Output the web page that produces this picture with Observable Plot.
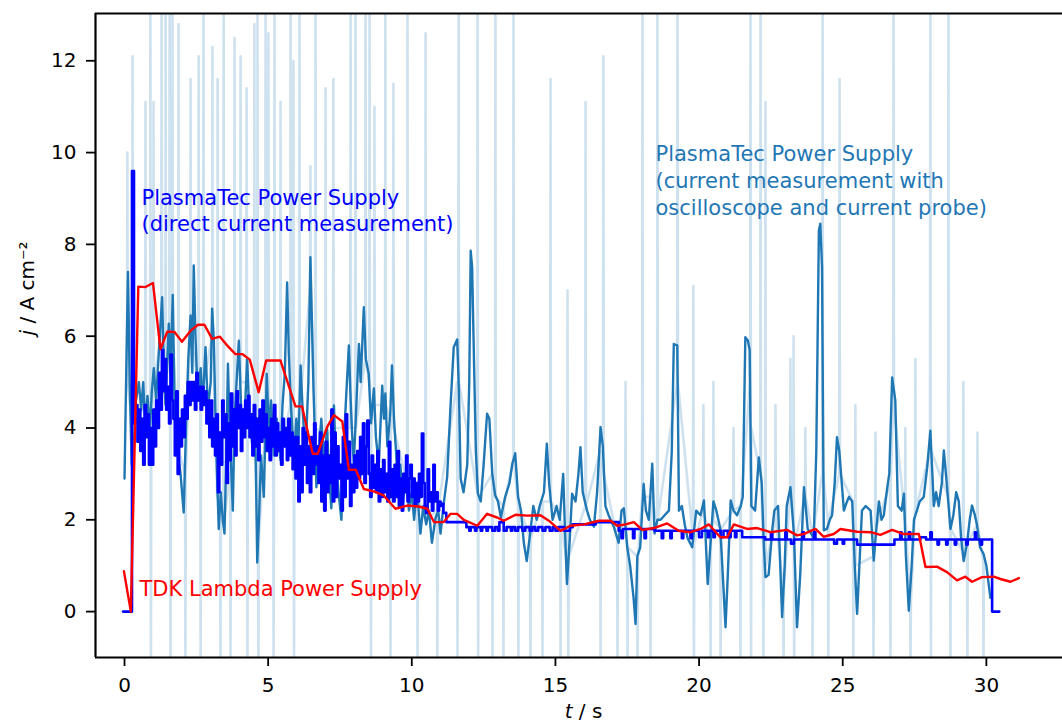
<!DOCTYPE html>
<html>
<head>
<meta charset="utf-8">
<script src="https://cdn.jsdelivr.net/npm/d3@7"></script>
<script src="https://cdn.jsdelivr.net/npm/@observablehq/plot@0.6"></script>
<style>
html, body { margin: 0; padding: 0; background: #fff; overflow: hidden; }
</style>
</head>
<body>
<div id="chart"></div>
<script>
// ---------- data ----------
const xTicks = [0, 5, 10, 15, 20, 25, 30];
const yTicks = [0, 2, 4, 6, 8, 10, 12];

const xLabel = "t / s";
const yLabel = "j / A cm\u207B\u00B2";
const labelDirect = "PlasmaTec Power Supply\n(direct current measurement)";
const labelOsc = "PlasmaTec Power Supply\n(current measurement with\noscilloscope and current probe)";
const labelTdk = "TDK Lambda Power Supply";

// TDK Lambda power supply [t, j]
const tdkLambda = [[-0.02,0.88],[0.22,0],[0.48,7.08],[0.73,7.07],[0.99,7.16],[1.25,5.72],[1.49,6.1],[1.74,6.09],[2.0,5.88],[2.3,6.12],[2.56,6.25],[2.78,6.25],[3.05,5.94],[3.32,5.99],[3.57,5.8],[3.86,5.61],[4.1,5.61],[4.36,5.49],[4.67,4.78],[4.93,5.47],[5.43,5.47],[5.95,4.47],[6.18,4.47],[6.55,3.44],[6.73,3.44],[7.05,4.02],[7.29,4.28],[7.58,4.14],[7.81,3.09],[8.05,3.09],[8.33,2.67],[8.68,2.62],[9.02,2.53],[9.43,2.24],[9.84,2.31],[10.24,2.29],[10.54,2.24],[10.77,1.95],[11.11,1.95],[11.35,2.13],[11.58,2.13],[11.81,2.0],[12.28,1.87],[12.62,2.13],[12.97,2.05],[13.2,1.98],[13.61,2.11],[14.02,2.09],[14.48,2.1],[14.77,1.98],[15.18,1.76],[15.52,1.87],[16.0,1.9],[16.51,1.98],[16.92,1.98],[17.15,1.87],[17.44,1.9],[17.73,1.95],[18.02,1.78],[18.43,1.82],[18.89,1.92],[19.29,1.76],[19.7,1.73],[20.05,1.8],[20.34,1.9],[20.74,1.62],[20.98,1.62],[21.21,1.9],[21.67,1.8],[22.02,1.82],[22.48,1.73],[23.06,1.78],[23.41,1.66],[23.64,1.69],[24.05,1.8],[24.34,1.63],[24.69,1.69],[24.92,1.8],[25.5,1.74],[25.97,1.73],[26.31,1.67],[26.72,1.78],[27.13,1.69],[27.65,1.69],[27.88,0.97],[28.28,0.98],[28.63,0.86],[28.98,0.68],[29.27,0.76],[29.5,0.65],[29.85,0.75],[30.26,0.76],[30.49,0.71],[30.84,0.65],[31.13,0.73]];

// PlasmaTec, direct current measurement [t, j] (stepwise)
const plasmaDirect = [[-0.05,0],[0.26,9.6],[0.33,4.1],[0.4,4.5],[0.45,3.7],[0.5,4.4],[0.55,3.5],[0.6,4.2],[0.65,3.2],[0.7,4.5],[0.75,3.8],[0.8,4.3],[0.85,3.2],[0.9,4.0],[0.95,3.2],[1.0,4.4],[1.05,3.6],[1.1,4.6],[1.15,4.0],[1.2,5.2],[1.25,4.4],[1.3,5.7],[1.35,4.8],[1.4,5.5],[1.45,4.4],[1.5,4.9],[1.55,4.1],[1.6,5.6],[1.65,4.6],[1.7,4.2],[1.75,3.4],[1.8,4.8],[1.85,3.0],[1.9,4.2],[1.95,3.6],[2.0,4.4],[2.05,3.8],[2.1,4.7],[2.15,4.2],[2.2,5.0],[2.25,4.5],[2.3,5.0],[2.35,4.6],[2.4,5.0],[2.45,4.4],[2.5,5.2],[2.55,4.6],[2.6,4.9],[2.65,4.4],[2.7,4.9],[2.75,4.5],[2.8,4.8],[2.85,4.1],[2.9,4.6],[2.95,3.8],[3.0,4.6],[3.05,3.6],[3.1,4.2],[3.15,3.4],[3.2,4.3],[3.25,2.6],[3.3,3.9],[3.35,3.2],[3.4,4.6],[3.45,3.8],[3.5,4.3],[3.55,2.8],[3.6,4.1],[3.65,3.3],[3.7,4.75],[3.75,3.6],[3.8,4.4],[3.85,3.4],[3.9,4.8],[3.95,4.0],[4.0,4.5],[4.05,3.5],[4.1,4.4],[4.15,3.8],[4.2,4.6],[4.25,4.0],[4.3,4.7],[4.35,3.8],[4.4,4.3],[4.45,3.4],[4.5,4.5],[4.55,3.6],[4.6,4.2],[4.65,3.3],[4.7,4.4],[4.75,3.7],[4.8,4.6],[4.85,3.8],[4.9,4.3],[4.95,3.5],[5.0,4.0],[5.05,3.3],[5.1,4.2],[5.15,3.6],[5.2,4.5],[5.25,3.4],[5.3,4.1],[5.35,3.5],[5.4,3.9],[5.45,3.2],[5.5,4.2],[5.55,3.6],[5.6,4.0],[5.65,3.3],[5.7,4.2],[5.75,3.4],[5.8,3.9],[5.85,3.1],[5.9,3.8],[5.95,2.9],[6.0,3.8],[6.05,2.4],[6.1,3.6],[6.15,2.6],[6.2,4.0],[6.25,3.2],[6.3,3.9],[6.35,2.8],[6.4,3.6],[6.45,2.6],[6.5,3.8],[6.55,3.0],[6.6,4.1],[6.65,3.2],[6.7,3.6],[6.75,2.8],[6.8,3.9],[6.85,2.4],[6.9,3.4],[6.95,2.2],[7.0,3.7],[7.05,2.6],[7.1,3.4],[7.15,2.8],[7.2,4.4],[7.25,2.4],[7.3,3.9],[7.35,2.5],[7.4,3.6],[7.45,2.9],[7.5,3.2],[7.55,2.2],[7.6,3.8],[7.65,2.5],[7.7,4.3],[7.75,2.9],[7.8,3.7],[7.85,2.3],[7.9,3.2],[7.95,2.6],[8.0,3.4],[8.05,2.7],[8.1,3.5],[8.15,2.9],[8.2,3.8],[8.25,3.0],[8.3,4.1],[8.35,2.8],[8.4,3.6],[8.45,4.16],[8.5,3.0],[8.55,2.5],[8.6,3.4],[8.65,2.7],[8.7,3.2],[8.75,2.6],[8.8,3.5],[8.85,2.4],[8.9,3.1],[8.95,2.5],[9.0,3.3],[9.05,2.6],[9.1,3.0],[9.15,2.4],[9.2,3.7],[9.25,2.5],[9.3,3.1],[9.35,2.4],[9.4,3.2],[9.45,2.5],[9.5,3.5],[9.55,2.3],[9.6,2.9],[9.65,2.2],[9.7,3.0],[9.75,2.6],[9.8,3.4],[9.85,2.4],[9.9,2.9],[9.95,3.2],[10.0,2.5],[10.05,2.9],[10.1,2.3],[10.15,2.8],[10.2,2.4],[10.25,3.0],[10.3,2.5],[10.35,3.88],[10.4,2.8],[10.45,2.3],[10.5,2.15],[10.55,3.1],[10.6,2.4],[10.65,2.6],[10.7,2.2],[10.75,3.2],[10.8,2.4],[10.85,2.6],[10.9,2.2],[10.95,2.4],[11.0,2.3],[11.05,2.35],[11.1,2.15],[11.2,1.95],[11.9,1.84],[12.0,1.76],[12.05,1.84],[12.2,1.76],[12.25,1.84],[12.4,1.76],[12.45,1.84],[12.6,1.76],[12.65,1.84],[12.8,1.76],[12.9,1.84],[13.0,1.76],[13.05,1.95],[13.2,1.76],[13.3,1.84],[13.45,1.76],[13.5,1.84],[13.6,1.76],[13.7,1.84],[13.85,1.76],[13.95,1.84],[14.1,1.76],[14.2,1.84],[14.3,1.76],[14.4,1.84],[14.55,1.76],[14.65,1.84],[14.8,1.76],[14.9,1.84],[15.0,1.76],[15.1,1.84],[15.3,1.76],[15.5,1.84],[15.6,1.9],[16.4,1.95],[17.2,1.76],[17.3,1.6],[17.35,1.8],[17.7,1.6],[17.75,1.8],[18.1,1.6],[18.15,1.8],[18.45,1.76],[18.7,1.6],[18.75,1.76],[19.0,1.6],[19.05,1.76],[19.4,1.6],[19.45,1.76],[19.7,1.6],[19.75,1.76],[20.0,1.62],[20.1,1.76],[20.3,1.62],[20.35,1.76],[20.5,1.62],[20.55,1.76],[20.75,1.62],[20.85,1.76],[21.0,1.62],[21.1,1.76],[21.25,1.62],[21.3,1.76],[21.5,1.62],[22.3,1.57],[22.5,1.73],[22.55,1.57],[23.0,1.73],[23.05,1.57],[23.2,1.48],[23.3,1.57],[23.6,1.73],[23.65,1.57],[24.0,1.73],[24.05,1.57],[24.7,1.48],[24.8,1.57],[25.0,1.48],[25.05,1.57],[25.5,1.46],[26.8,1.57],[27.0,1.73],[27.05,1.57],[27.3,1.73],[27.35,1.57],[27.7,1.62],[27.9,1.57],[28.05,1.73],[28.1,1.57],[28.3,1.46],[28.35,1.57],[28.6,1.46],[28.65,1.57],[28.9,1.46],[28.95,1.57],[29.3,1.46],[29.35,1.57],[29.6,1.73],[29.65,1.57],[29.8,1.46],[29.85,1.57],[30.2,0],[30.45,0]];

// PlasmaTec, oscilloscope (smoothed) [t, j]
const oscSmooth = [[0,2.9],[0.06,5.2],[0.12,7.4],[0.18,5.0],[0.25,3.2],[0.32,3.6],[0.4,4.6],[0.5,5.0],[0.58,4.4],[0.65,5.0],[0.72,4.1],[0.8,4.7],[0.88,3.9],[0.95,4.8],[1.02,5.3],[1.1,4.6],[1.19,5.6],[1.31,6.85],[1.38,5.0],[1.43,4.5],[1.54,6.27],[1.6,5.2],[1.68,6.9],[1.75,4.2],[1.85,3.5],[1.95,3.0],[2.06,2.16],[2.14,4.0],[2.22,5.5],[2.3,6.45],[2.36,5.2],[2.41,7.54],[2.47,6.0],[2.55,4.6],[2.65,5.3],[2.72,4.5],[2.82,5.76],[2.9,4.4],[3.0,5.0],[3.05,6.6],[3.11,5.9],[3.18,3.8],[3.28,1.8],[3.35,2.6],[3.42,2.0],[3.48,1.7],[3.55,3.6],[3.6,5.4],[3.66,4.0],[3.72,3.0],[3.77,2.2],[3.83,4.2],[3.9,5.0],[3.98,5.9],[4.06,4.4],[4.15,3.8],[4.27,5.5],[4.35,4.2],[4.45,3.6],[4.52,4.3],[4.57,3.2],[4.62,1.07],[4.68,2.0],[4.75,3.4],[4.85,2.5],[4.95,5.18],[5.02,4.0],[5.1,4.6],[5.2,3.4],[5.3,4.2],[5.43,3.3],[5.5,4.5],[5.58,5.2],[5.66,7.17],[5.72,5.6],[5.8,4.4],[5.9,3.3],[5.98,4.2],[6.05,3.6],[6.13,5.36],[6.2,4.4],[6.3,3.4],[6.4,5.0],[6.47,7.72],[6.52,6.4],[6.58,4.8],[6.68,2.71],[6.75,3.4],[6.85,4.2],[6.95,3.2],[7.05,4.0],[7.12,3.0],[7.2,2.25],[7.29,4.49],[7.35,3.4],[7.45,2.6],[7.55,2.0],[7.62,3.5],[7.7,4.5],[7.81,5.8],[7.86,4.8],[7.92,3.9],[7.98,3.2],[8.05,4.2],[8.16,5.83],[8.22,5.0],[8.33,6.63],[8.4,5.5],[8.5,5.18],[8.58,4.1],[8.68,4.86],[8.75,3.8],[8.85,3.2],[8.97,4.92],[9.03,4.2],[9.08,4.75],[9.15,3.6],[9.25,4.3],[9.31,5.36],[9.38,4.2],[9.45,3.5],[9.52,2.6],[9.6,3.2],[9.7,2.4],[9.8,3.0],[9.9,2.2],[10.0,2.6],[10.08,2.0],[10.18,2.7],[10.3,1.7],[10.4,2.3],[10.5,1.9],[10.6,2.2],[10.7,1.5],[10.83,2.05],[10.92,2.2],[11.0,1.7],[11.1,2.3],[11.23,2.93],[11.35,4.5],[11.46,5.76],[11.58,5.93],[11.64,4.8],[11.7,2.9],[11.8,2.6],[11.93,3.2],[12.0,5.0],[12.05,7.86],[12.1,7.5],[12.17,5.32],[12.23,3.5],[12.3,2.57],[12.4,2.4],[12.5,3.2],[12.62,4.31],[12.7,4.2],[12.8,3.0],[12.9,2.54],[13.0,2.4],[13.1,2.05],[13.25,2.5],[13.4,2.8],[13.5,3.22],[13.6,3.45],[13.7,2.5],[13.8,2.2],[13.9,1.5],[14.0,1.1],[14.1,1.6],[14.23,2.3],[14.35,2.0],[14.45,2.3],[14.6,2.6],[14.7,3.66],[14.78,2.8],[14.9,2.0],[15.04,2.3],[15.15,2.0],[15.27,3.0],[15.33,1.8],[15.4,0.6],[15.5,1.6],[15.58,2.57],[15.7,2.4],[15.8,3.0],[15.87,3.58],[15.95,2.6],[16.1,2.2],[16.2,2.0],[16.34,1.85],[16.45,2.6],[16.57,4.02],[16.65,3.6],[16.74,2.3],[16.85,2.1],[17.03,1.85],[17.2,1.5],[17.3,2.2],[17.38,2.25],[17.5,1.4],[17.6,1.0],[17.72,0.3],[17.79,-0.27],[17.85,1.2],[17.95,1.4],[18.07,2.78],[18.15,2.2],[18.25,2.0],[18.37,3.22],[18.45,1.7],[18.55,2.0],[18.66,2.0],[18.8,2.1],[18.95,2.2],[19.05,3.5],[19.12,5.83],[19.24,5.8],[19.3,2.2],[19.4,2.3],[19.5,1.9],[19.6,1.6],[19.76,1.4],[19.9,2.2],[20.05,2.1],[20.17,2.42],[20.3,0.6],[20.4,1.5],[20.5,2.4],[20.6,2.2],[20.74,1.8],[20.85,0.5],[20.92,-0.34],[21.0,0.8],[21.1,2.42],[21.2,2.2],[21.32,2.1],[21.45,2.3],[21.52,2.5],[21.61,5.98],[21.7,5.9],[21.76,5.7],[21.82,2.3],[21.95,2.2],[22.08,3.36],[22.18,2.8],[22.25,1.5],[22.31,0.75],[22.42,0.8],[22.55,1.8],[22.62,2.2],[22.75,2.3],[22.89,-0.12],[22.98,1.0],[23.05,2.3],[23.18,2.71],[23.3,1.7],[23.41,-0.34],[23.52,0.8],[23.65,2.71],[23.78,1.8],[23.9,1.7],[23.99,1.6],[24.08,3.5],[24.17,8.3],[24.22,8.45],[24.28,7.5],[24.34,1.77],[24.45,1.8],[24.55,2.0],[24.63,2.1],[24.72,2.8],[24.8,3.8],[24.88,3.5],[25.04,2.2],[25.15,2.4],[25.22,2.5],[25.33,2.4],[25.42,1.0],[25.5,-0.05],[25.58,1.0],[25.67,2.2],[25.8,2.3],[25.97,2.2],[26.08,1.11],[26.17,1.8],[26.26,2.4],[26.35,2.0],[26.43,2.1],[26.55,2.7],[26.62,3.0],[26.72,5.1],[26.83,4.6],[26.92,2.3],[27.05,2.2],[27.13,2.57],[27.2,1.2],[27.3,0.02],[27.4,1.0],[27.48,2.0],[27.58,2.2],[27.68,2.4],[27.82,2.5],[27.94,3.14],[28.05,3.94],[28.12,3.0],[28.17,2.3],[28.25,2.6],[28.34,2.3],[28.45,2.8],[28.52,3.51],[28.62,2.8],[28.75,1.8],[28.85,2.1],[28.95,2.6],[29.04,2.4],[29.12,1.6],[29.21,1.1],[29.33,1.5],[29.42,2.0],[29.5,2.31],[29.6,2.1],[29.67,1.9],[29.78,1.4],[29.9,1.26],[30.0,1.0],[30.14,0.3]];

// PlasmaTec, oscilloscope raw spikes [t, level before/after, spike extreme]
const oscRawSpikes = [[0.1,5,10.0],[0.28,4,12.1],[0.73,4.5,11.1],[0.9,4.3,13.5],[0.92,3.5,-1.3],[1.01,5,11.1],[1.29,6,13.5],[1.43,5,13.5],[1.57,6,13.5],[1.6,4,-1.3],[1.67,6,13.5],[1.88,3.5,12.8],[2.12,3,-1.3],[2.3,6,11.6],[2.58,5,12.1],[2.65,4.5,-1.3],[2.75,5,13.5],[3.06,6,12.3],[3.24,2.5,11.6],[3.34,2,-1.3],[3.45,2,13.5],[3.69,3,-1.3],[3.83,4,12.5],[4.04,5,12.1],[4.25,5,11.4],[4.28,4,-1.3],[4.52,4,12.8],[4.63,2,13.5],[4.66,1.5,-1.3],[4.91,4,13.5],[5.01,4.5,12.6],[5.19,3.5,-1.3],[5.22,3.5,13.5],[5.43,3.5,11.1],[5.78,4.5,13.5],[5.88,3.5,12.0],[5.9,3.3,-1.3],[6.09,4.5,13.5],[6.47,7,9.7],[6.65,4,13.5],[7.0,3.8,11.4],[7.27,4,11.6],[7.87,4,13.5],[8.04,4,13.5],[8.39,5.5,13.5],[8.53,5,13.5],[8.58,4.1,-1.3],[8.7,4.5,11.0],[9.08,4.5,13.5],[9.26,4.2,-1.3],[9.36,4,11.5],[9.85,2.8,13.5],[10.2,2.5,-1.3],[10.48,2,12.6],[10.89,2.2,-1.3],[11.59,5,-1.3],[11.63,5,13.5],[12.29,2.6,13.5],[12.31,2.5,-1.3],[12.81,3,-1.3],[12.91,2.5,13.5],[13.19,2.3,-1.3],[13.54,3.3,13.5],[13.71,2.3,-1.3],[14.13,1.6,-1.3],[14.55,2.4,-1.3],[14.83,2.4,11.6],[15.18,2,-1.3],[15.42,1,7.0],[15.45,1.2,-1.3],[16.05,2.3,11.1],[16.57,3.5,-1.3],[16.67,3,12.1],[17.16,1.6,-1.3],[17.44,2,5.0],[17.51,1.4,-1.3],[17.86,1.2,-1.3],[18.03,2.5,13.5],[18.31,2.5,-1.3],[18.55,2.0,13.5],[19.25,5,13.5],[19.8,1.6,7.1],[19.82,1.5,-1.3],[20.15,2.2,4.5],[20.4,1.5,-1.3],[20.5,2,5.0],[20.75,1.8,-1.3],[21.2,2.2,4.0],[21.44,2.3,-1.3],[21.79,5,13.5],[21.81,4,-1.3],[22.14,3,13.5],[22.24,1.5,-1.3],[22.31,1,11.1],[22.66,2,4.5],[22.94,0.5,-1.3],[23.18,2.6,5.5],[23.29,2,6.0],[23.31,1.5,-1.3],[23.7,2.5,4.0],[23.95,1.7,-1.3],[24.3,3,13.5],[24.5,2,-1.3],[24.89,3,11.6],[25.37,2.4,-1.3],[25.44,1.0,4.5],[26.07,1.2,-1.3],[26.14,1.8,3.9],[26.66,2.8,-1.3],[26.77,4.5,13.5],[27.18,2.0,4.0],[27.36,0.2,-1.3],[27.53,2.2,5.5],[28.05,3.5,13.5],[28.07,3.5,-1.3],[28.68,2.5,13.5],[28.75,1.8,-1.3],[29.2,1.3,5.0],[29.34,1.5,-1.3],[29.69,1.9,3.9],[29.9,1.1,-1.3]];

// ---------- build ----------
const xDomain = [-1.01, 32.65];
const yDomain = [-1.0, 13.03];

// each raw spike drawn as a narrow up/down excursion of the raw trace
const oscRaw = oscRawSpikes.flatMap(([t, base, ext]) => [[t - 0.012, base], [t, ext], [t + 0.012, base]]);

const C0 = "#1f77b4";

const plot = Plot.plot({
  width: 1062,
  height: 726,
  marginTop: 13,
  marginBottom: 69,
  marginLeft: 95,
  marginRight: 0,
  style: { fontFamily: "DejaVu Sans", fontSize: "20px", color: "#000", background: "#fff" },
  x: { domain: xDomain, label: null },
  y: { domain: yDomain, label: null },
  marks: [
    Plot.line(oscRaw, { x: "0", y: "1", stroke: C0, strokeOpacity: 0.22, strokeWidth: 2.6, clip: true }),
    Plot.line(oscSmooth, { x: "0", y: "1", stroke: C0, strokeWidth: 2.4, clip: true }),
    Plot.line(plasmaDirect, { x: "0", y: "1", stroke: "#0000ff", strokeWidth: 2.6, curve: "step-after", clip: true }),
    Plot.line(tdkLambda, { x: "0", y: "1", stroke: "#ff0000", strokeWidth: 2.4, clip: true }),

    Plot.text([labelDirect], { frameAnchor: "top-left", dx: 46, dy: 174, text: d => d, fill: "#0000ff", fontSize: 21, textAnchor: "start", lineAnchor: "top", lineHeight: 1.2 }),
    Plot.text([labelOsc], { frameAnchor: "top-left", dx: 560, dy: 129, text: d => d, fill: C0, fontSize: 21, textAnchor: "start", lineAnchor: "top", lineHeight: 1.27 }),
    Plot.text([labelTdk], { frameAnchor: "top-left", dx: 44, dy: 568, text: d => d, fill: "#ff0000", fontSize: 21, textAnchor: "start", lineAnchor: "top" }),

    Plot.axisX(xTicks, { tickSize: 9, tickPadding: 11, strokeWidth: 1.8, label: null, fontSize: 20 }),
    Plot.axisY(yTicks, { tickSize: 9, tickPadding: 10, strokeWidth: 1.8, label: null, fontSize: 20 }),

    Plot.ruleX([xDomain[0]], { stroke: "#000", strokeWidth: 2.2 }),
    Plot.ruleY([yDomain[0]], { stroke: "#000", strokeWidth: 2.2 }),
    Plot.ruleY([yDomain[1]], { stroke: "#000", strokeWidth: 2.2 }),

    Plot.text([xLabel], { frameAnchor: "bottom", dx: 4.5, dy: 54, text: d => d, fontSize: 20, fill: "#000", lineAnchor: "middle" }),
    Plot.text([yLabel], { frameAnchor: "left", dx: -68, text: d => d, fontSize: 20, fill: "#000", rotate: -90, lineAnchor: "middle" })
  ]
});

// italic variable symbols (j, t) in the axis labels
d3.select(plot).selectAll("text").each(function () {
  const s = this.textContent;
  if (s === xLabel || s === yLabel) {
    const el = d3.select(this);
    el.text(null);
    el.append("tspan").attr("font-style", "italic").text(s[0]);
    el.append("tspan").text(s.slice(1));
  }
});

document.getElementById("chart").appendChild(plot);
</script>
</body>
</html>
